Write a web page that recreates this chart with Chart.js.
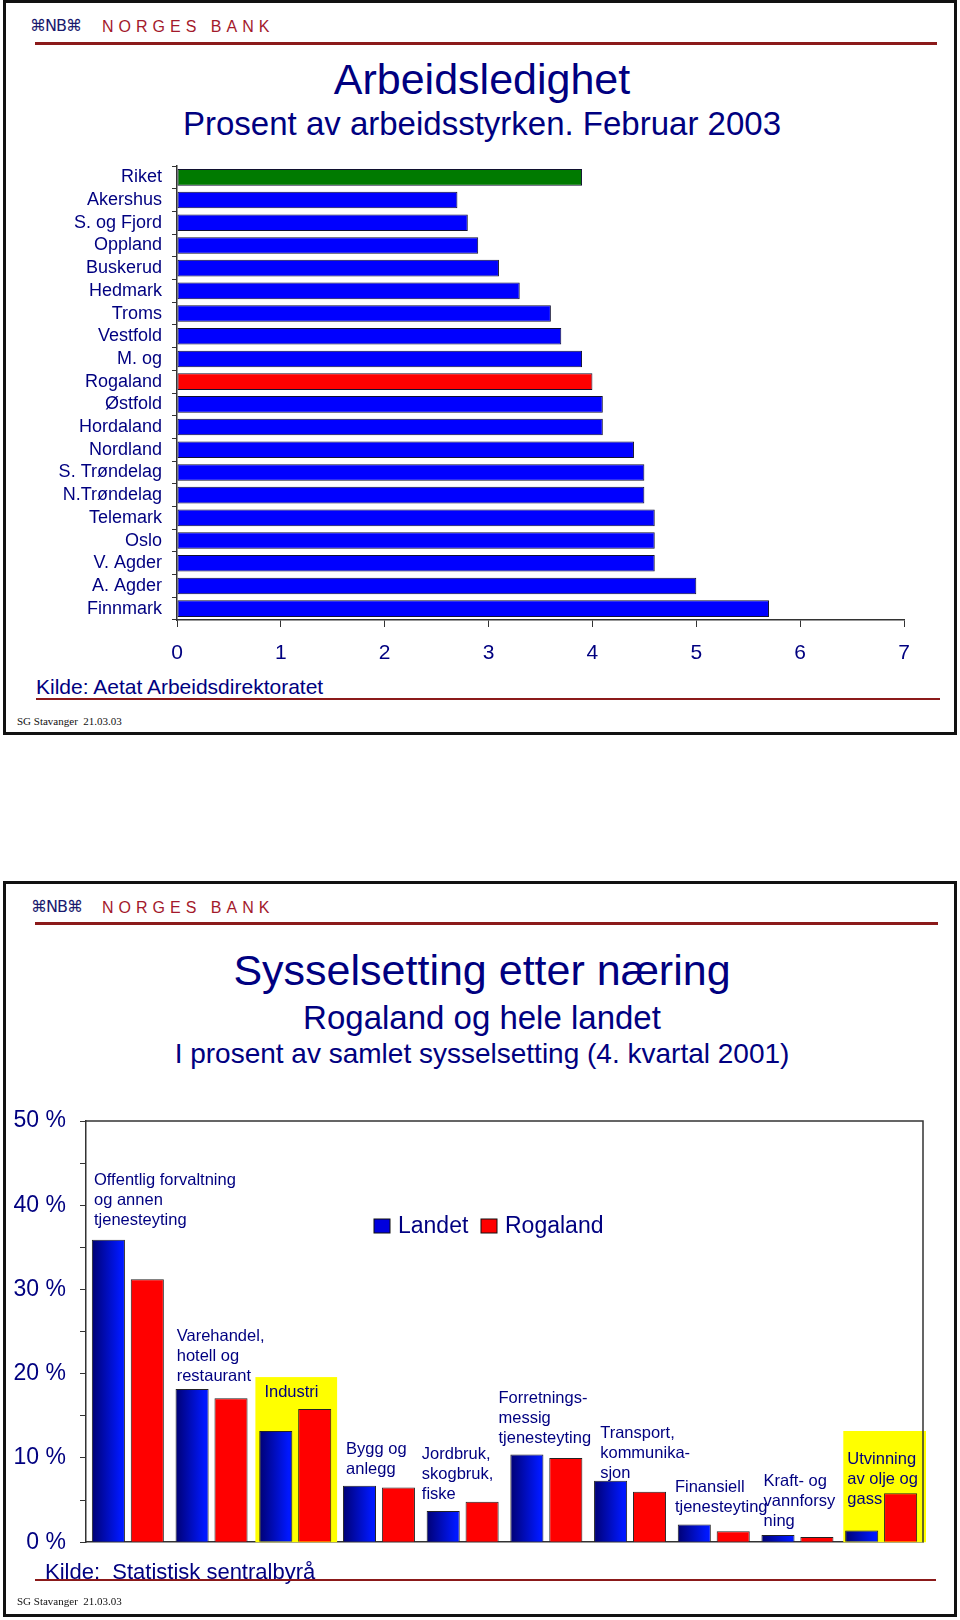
<!DOCTYPE html>
<html lang="no">
<head>
<meta charset="utf-8">
<script src="https://cdn.jsdelivr.net/npm/chart.js@4.4.1/dist/chart.umd.min.js"></script>
<style>
  html, body { margin: 0; padding: 0; background: #fff; }
  body { position: relative; width: 960px; height: 1620px; overflow: hidden;
         font-family: "Liberation Sans", Arial, sans-serif; color: #000080; }
  .slide { position: absolute; left: 3px; width: 948px; border: 3px solid #111; box-sizing: content-box; }
  .abs { position: absolute; white-space: pre; line-height: 1; }
  .logo { font-family: "DejaVu Sans", sans-serif; font-size: 16px; color: #1a1a6e; letter-spacing: -1px; }
  .bank { font-size: 16px; color: #a3192b; letter-spacing: 5px; }
  .redline { position: absolute; height: 3px; background: #8b1a1a; }
  .thin { height: 2px; }
  .center { left: 2px; width: 960px; text-align: center; }
  .sg { font-family: "Liberation Serif", serif; font-size: 11px; color: #111; }
  canvas { position: absolute; left: 0; }
</style>
</head>
<body>

<!-- øverste lysbilde -->
<div class="slide" style="top:0px;height:729px;"></div>
<div class="abs logo" style="left:30px;top:18px;">⌘NB⌘</div>
<div class="abs bank" style="left:102px;top:19px;">NORGES BANK</div>
<div class="redline" style="left:35px;width:902px;top:42px;"></div>
<div class="abs center" style="top:58px;font-size:43px;">Arbeidsledighet</div>
<div class="abs center" style="top:107px;font-size:33px;">Prosent av arbeidsstyrken. Februar 2003</div>
<canvas id="ledighet" width="960" height="520" style="top:150px;"></canvas>
<div class="abs" style="left:36px;top:676px;font-size:21px;">Kilde: Aetat Arbeidsdirektoratet</div>
<div class="redline thin" style="left:36px;width:904px;top:698px;"></div>
<div class="abs sg" style="left:17px;top:716px;">SG Stavanger  21.03.03</div>

<!-- nederste lysbilde -->
<div class="slide" style="top:881px;height:730px;"></div>
<div class="abs logo" style="left:31px;top:899px;">⌘NB⌘</div>
<div class="abs bank" style="left:102px;top:900px;">NORGES BANK</div>
<div class="redline" style="left:35px;width:903px;top:922px;"></div>
<div class="abs center" style="top:949px;font-size:43px;">Sysselsetting etter næring</div>
<div class="abs center" style="top:1001px;font-size:33px;">Rogaland og hele landet</div>
<div class="abs center" style="top:1040px;font-size:28px;">I prosent av samlet sysselsetting (4. kvartal 2001)</div>
<canvas id="naering" width="960" height="490" style="top:1080px;"></canvas>
<div class="abs" style="left:45px;top:1561px;font-size:22px;">Kilde:  Statistisk sentralbyrå</div>
<div class="redline thin" style="left:35px;width:901px;top:1579px;"></div>
<div class="abs sg" style="left:17px;top:1596px;">SG Stavanger  21.03.03</div>

<script>
Chart.defaults.font.family = '"Liberation Sans", Arial, sans-serif';
Chart.defaults.color = '#000080';

/* DATA – arbeidsledighet */
const fylker = [
  'Riket', 'Akershus', 'S. og Fjord', 'Oppland', 'Buskerud', 'Hedmark', 'Troms',
  'Vestfold', 'M. og', 'Rogaland', 'Østfold', 'Hordaland', 'Nordland',
  'S. Trøndelag', 'N.Trøndelag', 'Telemark', 'Oslo', 'V. Agder', 'A. Agder', 'Finnmark'
];
const ledighet = [3.9, 2.7, 2.8, 2.9, 3.1, 3.3, 3.6, 3.7, 3.9, 4.0, 4.1, 4.1, 4.4, 4.5, 4.5, 4.6, 4.6, 4.6, 5.0, 5.7];
const xTicks = [0, 1, 2, 3, 4, 5, 6, 7];

/* DATA – sysselsetting etter næring */
const naeringer = [
  ['Offentlig forvaltning', 'og annen', 'tjenesteyting'],
  ['Varehandel,', 'hotell og', 'restaurant'],
  ['Industri'],
  ['Bygg og', 'anlegg'],
  ['Jordbruk,', 'skogbruk,', 'fiske'],
  ['Forretnings-', 'messig', 'tjenesteyting'],
  ['Transport,', 'kommunika-', 'sjon'],
  ['Finansiell', 'tjenesteyting'],
  ['Kraft- og', 'vannforsy', 'ning'],
  ['Utvinning', 'av olje og', 'gass']
];
const landet = [35.9, 18.2, 13.2, 6.7, 3.7, 10.4, 7.3, 2.1, 0.86, 1.4];
const rogaland = [31.2, 17.1, 15.8, 6.5, 4.8, 10.0, 6.0, 1.3, 0.62, 5.8];
const yTicks = [0, 10, 20, 30, 40, 50];

const navy = '#000080';
const axisCol = '#333';

/* ARBEIDSLEDIGHET – liggende søyler */
new Chart(document.getElementById('ledighet'), {
  type: 'bar',
  data: {
    labels: fylker,
    datasets: [{
      data: ledighet,
      backgroundColor: fylker.map(f => f === 'Riket' ? '#007a00' : f === 'Rogaland' ? '#ff0000' : '#0000ff'),
      borderColor: '#101030',
      borderWidth: 1,
      borderSkipped: false,
      barPercentage: 0.73,
      categoryPercentage: 1,
    }],
  },
  options: {
    indexAxis: 'y',
    responsive: false,
    animation: false,
    layout: { padding: { top: 16, right: 56 } },
    plugins: { legend: { display: false }, tooltip: { enabled: false } },
    scales: {
      x: {
        min: xTicks[0],
        max: xTicks[xTicks.length - 1],
        afterBuildTicks: s => { s.ticks = xTicks.map(v => ({ value: v })); },
        ticks: { font: { size: 21 }, padding: 14, color: navy },
        grid: { drawOnChartArea: false, tickLength: 7, color: axisCol },
        border: { color: axisCol, width: 1.5 },
        afterFit: s => { s.height = 50; },
      },
      y: {
        ticks: { font: { size: 18 }, padding: 10, autoSkip: false, color: navy },
        grid: { drawOnChartArea: false, tickLength: 5, offset: true, color: axisCol },
        border: { color: axisCol, width: 1.5 },
        afterFit: s => { s.width = 177; s.paddingTop = 0; s.paddingBottom = 0; },
      },
    },
  },
});

/* etiketter og gule felt i næringsdiagrammet */
const notePlugin = {
  id: 'notes',
  beforeDatasetsDraw(chart) {
    const { ctx, scales: { x, y }, chartArea } = chart;
    const w = x.width / naeringer.length;
    ctx.save();
    ctx.fillStyle = '#ffff00';
    // Industri og Utvinning er markert med gult
    [[2, 19.6, 2, 0], [9, 13.2, 4, 3]].forEach(([i, top, dl, dr]) => {
      const left = x.getPixelForValue(i) - w / 2 + dl;
      const right = x.getPixelForValue(i) + w / 2 + dr;
      ctx.fillRect(left, y.getPixelForValue(top), right - left, chartArea.bottom - y.getPixelForValue(top));
    });
    ctx.restore();
  },
  afterDatasetsDraw(chart) {
    const { ctx, scales: { x, y } } = chart;
    const w = x.width / naeringer.length;
    // [forskyvning fra kategoriens venstre kant, høyde (%) for første linje]
    const place = [[8, 42.9], [7, 24.4], [11, 17.8], [9, 11.0], [1, 10.4],
                   [-6, 17.1], [12, 12.9], [3, 6.5], [8, 7.2], [8, 9.8]];
    ctx.save();
    ctx.font = '16.5px "Liberation Sans", Arial, sans-serif';
    ctx.fillStyle = navy;
    ctx.textAlign = 'left';
    ctx.textBaseline = 'middle';
    naeringer.forEach((lines, i) => {
      const left = x.getPixelForValue(i) - w / 2 + place[i][0];
      const top = y.getPixelForValue(place[i][1]);
      lines.forEach((t, k) => ctx.fillText(t, left, top + k * 20));
    });
    ctx.restore();
  },
  afterDraw(chart) {
    const { ctx, chartArea: a } = chart;
    ctx.save();
    // ramme oppe og til høyre
    ctx.strokeStyle = axisCol;
    ctx.lineWidth = 1.5;
    ctx.beginPath();
    ctx.moveTo(a.left, a.top);
    ctx.lineTo(a.right, a.top);
    ctx.lineTo(a.right, a.bottom);
    ctx.stroke();
    // forklaring
    const lx = a.left + 288, ly = a.top + 98;
    const items = [['Landet', '#0000dd', 0], ['Rogaland', '#ff0000', 107]];
    ctx.font = '23px "Liberation Sans", Arial, sans-serif';
    ctx.textBaseline = 'middle';
    ctx.lineWidth = 1;
    items.forEach(([txt, col, off]) => {
      ctx.fillStyle = col;
      ctx.fillRect(lx + off, ly, 16, 14);
      ctx.strokeStyle = '#111';
      ctx.strokeRect(lx + off, ly, 16, 14);
      ctx.fillStyle = navy;
      ctx.fillText(txt, lx + off + 24, ly + 8);
    });
    ctx.restore();
  },
};

// mørk-til-lys gradient på søylene for Landet
function landetFill(c) {
  const x = c.chart.scales.x;
  if (!x || c.type !== 'data' || !(x.width > 0)) return '#0000dd';
  const w = x.width / naeringer.length;
  const mid = x.getPixelForValue(c.dataIndex);
  if (!Number.isFinite(mid) || !Number.isFinite(w)) return '#0000dd';
  const g = c.chart.ctx.createLinearGradient(mid - w * 0.44, 0, mid - w * 0.08, 0);
  g.addColorStop(0, '#000070');
  g.addColorStop(1, '#0018ff');
  return g;
}

/* SYSSELSETTING ETTER NÆRING – grupperte søyler */
new Chart(document.getElementById('naering'), {
  type: 'bar',
  data: {
    labels: naeringer,
    datasets: [
      {
        label: 'Landet',
        data: landet,
        backgroundColor: landetFill,
        borderColor: '#222',
        borderWidth: 1,
        borderSkipped: 'bottom',
        barPercentage: 0.85,
        categoryPercentage: 0.93,
      },
      {
        label: 'Rogaland',
        data: rogaland,
        backgroundColor: '#ff0000',
        borderColor: '#222',
        borderWidth: 1,
        borderSkipped: 'bottom',
        barPercentage: 0.85,
        categoryPercentage: 0.93,
      },
    ],
  },
  options: {
    responsive: false,
    animation: false,
    layout: { padding: { top: 41, right: 37 } },
    plugins: { legend: { display: false }, tooltip: { enabled: false } },
    scales: {
      x: {
        ticks: { display: false },
        grid: { display: false },
        border: { color: axisCol, width: 1.5 },
        afterFit: s => { s.height = 25; },
      },
      y: {
        min: yTicks[0],
        max: yTicks[yTicks.length - 1],
        ticks: {
          stepSize: 5,
          font: { size: 23 },
          padding: 14,
          color: navy,
          callback: v => yTicks.includes(v) ? v + ' %' : '',
        },
        grid: { drawOnChartArea: false, tickLength: 6, color: axisCol },
        border: { color: axisCol, width: 1.5 },
        afterFit: s => { s.width = 86; },
      },
    },
  },
  plugins: [notePlugin],
});
</script>
</body>
</html>
